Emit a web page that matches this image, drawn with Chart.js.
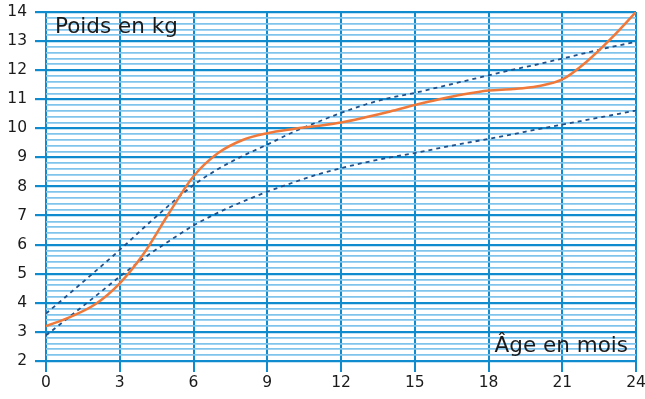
<!DOCTYPE html>
<html>
<head>
<meta charset="utf-8">
<script src="https://cdn.jsdelivr.net/npm/chart.js@4"></script>
<style>
  body { margin: 0; background: #fff; }
  #wrap { width: 645px; height: 399px; }
</style>
</head>
<body>
<div id="wrap"><canvas id="chart" width="645" height="399"></canvas></div>
<script>
// ages in months
const months = [0, 1, 2, 3, 4, 5, 6, 7, 8, 9, 10, 11, 12, 13, 14, 15, 16, 17, 18, 19, 20, 21, 22, 23, 24];
// child's weight (kg)
const weight = [3.2, 3.52, 3.95, 4.67, 5.72, 7.08, 8.35, 9.15, 9.6, 9.83, 9.97, 10.08, 10.2, 10.38, 10.58, 10.8, 11.0, 11.17, 11.3, 11.35, 11.45, 11.68, 12.3, 13.1, 14.0];
// reference curves
const upperRef = [3.63, 4.35, 5.08, 5.82, 6.6, 7.35, 8.05, 8.6, 9.05, 9.44, 9.85, 10.2, 10.53, 10.82, 11.05, 11.22, 11.42, 11.62, 11.82, 12.02, 12.2, 12.4, 12.6, 12.8, 12.97];
const lowerRef = [2.88, 3.55, 4.22, 4.9, 5.55, 6.12, 6.66, 7.1, 7.48, 7.82, 8.12, 8.4, 8.63, 8.83, 9.0, 9.15, 9.32, 9.48, 9.64, 9.8, 9.97, 10.13, 10.29, 10.45, 10.61];

const yTitle = "Poids en kg";
const xTitle = "Âge en mois";

const DARK = '#108cce';
const LIGHT = '#80c4ec';
const TEXT = '#1a1a1a';

function isMajor(v) {
    return Math.abs(v - Math.round(v)) < 1e-6;
}

function toPoints(values) {
    return months.map((m, i) => ({ x: m, y: values[i] }));
}

// axis captions drawn inside the plot area
const captions = {
    id: 'captions',
    afterDatasetsDraw(chart) {
        const { ctx } = chart;
        ctx.save();
        ctx.fillStyle = TEXT;
        ctx.font = '21.5px "DejaVu Sans"';
        ctx.textBaseline = 'alphabetic';
        ctx.textAlign = 'left';
        ctx.fillText(yTitle, 55, 33);
        ctx.textAlign = 'right';
        ctx.fillText(xTitle, 628, 352);
        ctx.restore();
    }
};

const refStyle = {
    borderColor: '#1e4f88',
    borderWidth: 1.8,
    borderDash: [4, 4],
    pointRadius: 0,
    fill: false,
    cubicInterpolationMode: 'monotone',
};

new Chart(document.getElementById('chart'), {
    type: 'line',
    data: {
        datasets: [
            {
                label: 'Poids',
                data: toPoints(weight),
                borderColor: '#f0793a',
                borderWidth: 2.5,
                pointRadius: 0,
                fill: false,
                cubicInterpolationMode: 'monotone',
            },
            Object.assign({ label: 'Référence haute', data: toPoints(upperRef) }, refStyle),
            Object.assign({ label: 'Référence basse', data: toPoints(lowerRef) }, refStyle),
        ],
    },
    options: {
        responsive: false,
        animation: false,
        devicePixelRatio: 1,
        layout: { padding: { top: 12, right: 9, bottom: 0, left: 0 } },
        plugins: {
            legend: { display: false },
            tooltip: { enabled: false },
        },
        scales: {
            x: {
                type: 'linear',
                min: 0,
                max: 24,
                border: { display: false },
                grid: {
                    color: DARK,
                    lineWidth: 2,
                    tickLength: 11,
                    tickColor: DARK,
                },
                ticks: {
                    stepSize: 3,
                    padding: 2,
                    color: TEXT,
                    font: { family: 'DejaVu Sans', size: 15.5 },
                    maxRotation: 0,
                },
                afterFit: (s) => {
                    s.height = 38;
                    s.paddingLeft = 0;
                    s.paddingRight = 0;
                },
            },
            y: {
                min: 2,
                max: 14,
                border: { display: false },
                grid: {
                    color: (c) => isMajor(c.tick.value) ? DARK : LIGHT,
                    lineWidth: (c) => isMajor(c.tick.value) ? 2.2 : 1.8,
                    tickLength: 11,
                    tickColor: (c) => isMajor(c.tick.value) ? DARK : 'rgba(0,0,0,0)',
                },
                ticks: {
                    stepSize: 0.2,
                    autoSkip: false,
                    padding: 8,
                    color: TEXT,
                    font: { family: 'DejaVu Sans', size: 15.5 },
                    callback: (v) => isMajor(v) ? String(Math.round(v)) : '',
                },
                afterFit: (s) => {
                    s.width = 46;
                    s.paddingTop = 0;
                    s.paddingBottom = 0;
                },
            },
        },
    },
    plugins: [captions],
});
</script>
</body>
</html>
